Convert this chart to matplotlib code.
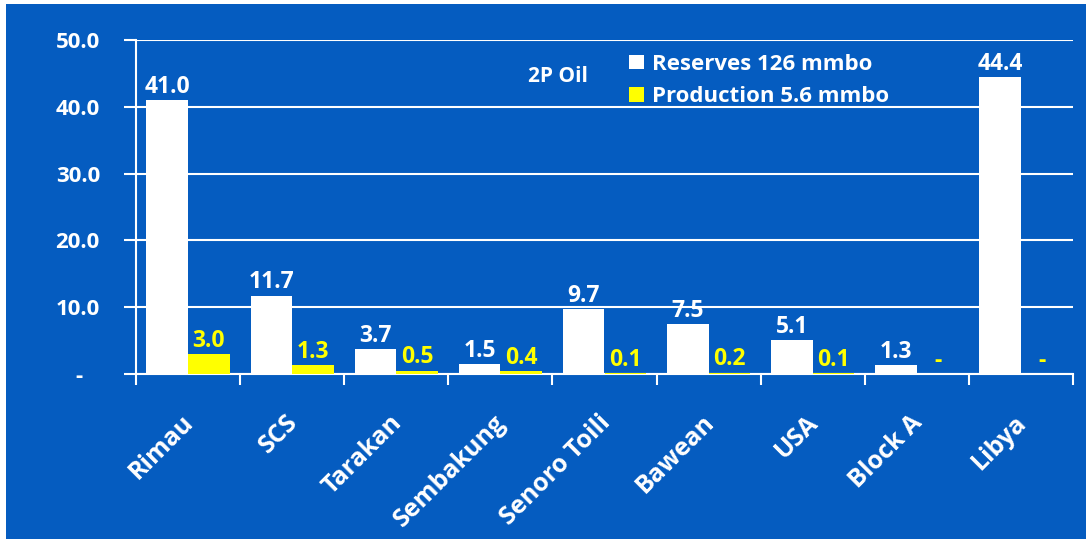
import numpy as np
import matplotlib
matplotlib.use("Agg")
import matplotlib.pyplot as plt
from matplotlib.patches import Patch, Rectangle
from matplotlib.transforms import ScaledTranslation

plt.rcParams['font.family'] = ['Open Sans', 'DejaVu Sans']
plt.rcParams['font.weight'] = 'bold'

# data
fields = ["Rimau", "SCS", "Tarakan", "Sembakung", "Senoro Toili", "Bawean", "USA", "Block A", "Libya"]
reserves = [41.0, 11.7, 3.7, 1.5, 9.7, 7.5, 5.1, 1.3, 44.4]
production = [3.0, 1.3, 0.5, 0.4, 0.1, 0.2, 0.1, 0.0, 0.0]
yticks = [0, 10, 20, 30, 40, 50]
ytick_labels = ["-   ", "10.0", "20.0", "30.0", "40.0", "50.0"]

bg = '#055CC0'
yel = '#FFFF00'
fs = 16

fig = plt.figure(figsize=(10.86, 5.39), dpi=100)
fig.patch.set_facecolor('white')
fig.patches.append(Rectangle((6/1086, 0), 1, 1 - 4/539, transform=fig.transFigure,
                             facecolor=bg, edgecolor='none', zorder=-10))

ax = fig.add_axes([136/1086, 1 - 374/539, (1073 - 136)/1086, (374 - 40)/539])
ax.set_facecolor(bg)

x = np.arange(len(fields))
w = 0.4
b1 = ax.bar(x - w/2, reserves, w, color='white', zorder=3)
b2 = ax.bar(x + w/2, production, w, color=yel, zorder=3)

for rect, v in zip(b1, reserves):
    ax.annotate(f"{v:.1f}", (rect.get_x() + rect.get_width()/2, v), xytext=(0, 1),
                textcoords='offset points', ha='center', va='bottom',
                color='white', fontsize=16.5, fontweight='bold')
for rect, v in zip(b2, production):
    lab = f"{v:.1f}" if v > 0 else "-"
    ax.annotate(lab, (rect.get_x() + rect.get_width()/2, v), xytext=(0, 1),
                textcoords='offset points', ha='center', va='bottom',
                color=yel, fontsize=16.5, fontweight='bold')

ax.set_xlim(-0.5, len(fields) - 0.5)
ax.set_ylim(0, 50)
ax.set_yticks(yticks)
ax.set_yticklabels(ytick_labels)
ax.yaxis.grid(True, color='white', linewidth=1.5, zorder=0)
ax.set_axisbelow(True)

ax.set_xticks(x)
ax.set_xticklabels(fields, rotation=45, ha='right', rotation_mode='anchor')
ax.set_xticks(np.arange(len(fields) + 1) - 0.5, minor=True)
ax.tick_params(axis='x', which='major', length=0, pad=26, colors='white', labelsize=18)
ax.tick_params(axis='x', which='minor', length=8, width=1.5, color='white', direction='out')
ax.tick_params(axis='y', length=9, width=1.5, colors='white', labelsize=fs, pad=17)
shift = ScaledTranslation(-7/100, 0, fig.dpi_scale_trans)
for lab in ax.get_xticklabels():
    lab.set_transform(lab.get_transform() + shift)
for lab in ax.get_xticklabels() + ax.get_yticklabels():
    lab.set_fontweight('bold')

for s in ['top', 'right']:
    ax.spines[s].set_visible(False)
for s in ['left', 'bottom']:
    ax.spines[s].set_color('white')
    ax.spines[s].set_linewidth(1.5)

ax.text(0.418, 0.89, "2P Oil", transform=ax.transAxes, color='white',
        fontsize=15, fontweight='bold', ha='left', va='center')

handles = [Patch(facecolor='white', label='Reserves 126 mmbo'),
           Patch(facecolor=yel, label='Production 5.6 mmbo')]
leg = ax.legend(handles=handles, loc='upper left', bbox_to_anchor=(0.51, 1.005),
                frameon=False,
                handlelength=0.65, handleheight=0.65, handletextpad=0.35,
                labelspacing=0.5, borderpad=0.2, prop={'size': fs, 'weight': 'bold'})
for t in leg.get_texts():
    t.set_color('white')

fig.savefig('out.png', dpi=100, facecolor=fig.get_facecolor())
